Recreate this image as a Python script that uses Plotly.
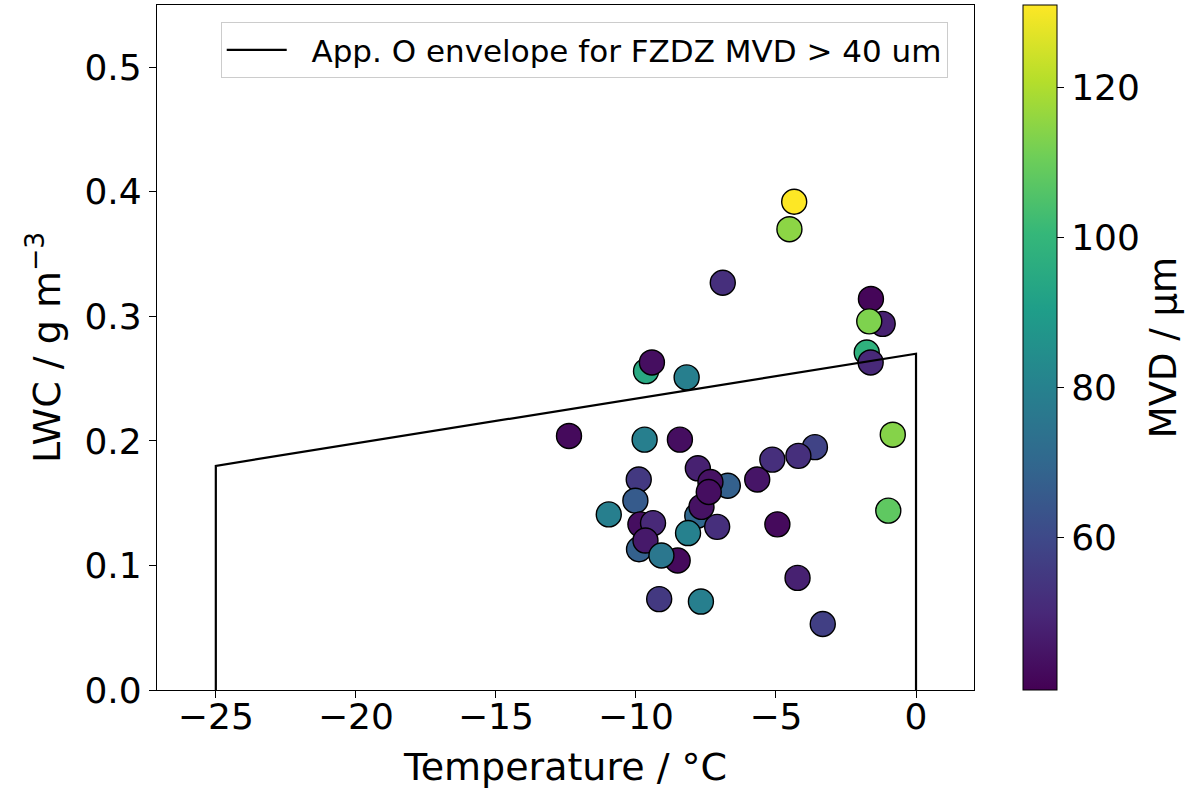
import plotly.graph_objects as go

# ---- data ----
temp = [-9.64, -9.43, -8.19, -12.39, -9.69, -8.43,
        -9.90, -10.02, -10.97, -9.84, -9.39, -9.89, -8.51, -9.66, -9.09,
        -7.79, -6.72, -7.34, -7.81, -7.66, -7.40, -7.10, -8.14,
        -5.67, -5.13, -3.61, -4.20, -4.95,
        -6.90, -1.61, -1.19, -1.76, -1.62, -1.67,
        -0.83, -0.99, -4.23, -9.17, -7.68, -3.33,
        -4.52, -4.35]
lwc = [0.256, 0.263, 0.251, 0.204, 0.201, 0.201,
       0.169, 0.152, 0.141, 0.133, 0.134, 0.113, 0.104, 0.120, 0.108,
       0.178, 0.164, 0.167, 0.140, 0.147, 0.159, 0.131, 0.126,
       0.169, 0.185, 0.195, 0.188, 0.133,
       0.327, 0.314, 0.294, 0.271, 0.263, 0.296,
       0.205, 0.144, 0.090, 0.073, 0.071, 0.053,
       0.370, 0.392]
mvd = [95, 43, 79, 42, 79, 43,
       55, 66, 79, 43, 50, 68, 42, 46, 76,
       48, 68, 44, 70, 44, 43, 52, 80,
       45, 52, 58, 52, 42,
       52, 41, 48, 98, 50, 113,
       114, 108, 48, 55, 79, 57,
       115, 131]

env_t = [-25, -25, 0, 0]
env_lwc = [0.0, 0.18, 0.27, 0.0]
env_name = "App. O envelope for FZDZ MVD > 40 um"

cb_ticks = [60, 80, 100, 120]

FONT = "DejaVu Sans"

fig = go.Figure()
fig.add_trace(go.Scatter(
    x=temp, y=lwc, mode="markers", showlegend=False,
    marker=dict(
        size=25, color=mvd, colorscale="Viridis", cmin=39.7, cmax=131,
        line=dict(color="black", width=1.4),
        colorbar=dict(
            thickness=34, thicknessmode="pixels", len=1, lenmode="fraction",
            x=1.06, xanchor="left", xpad=0, y=0.5, yanchor="middle", ypad=0,
            outlinecolor="black", outlinewidth=1,
            ticks="outside", ticklen=7, tickcolor="black", tickwidth=1,
            tickvals=cb_ticks,
            tickfont=dict(family=FONT, size=36, color="black"),
            title=dict(text="MVD / μm", side="right",
                       font=dict(family=FONT, size=37, color="black")),
        ),
    ),
))
fig.add_trace(go.Scatter(
    x=env_t, y=env_lwc, mode="lines", name="\u00a0\u00a0" + env_name,
    line=dict(color="black", width=2.2),
))

axis_common = dict(
    showline=True, mirror=True, linecolor="black", linewidth=1.2,
    ticks="outside", ticklen=7, tickcolor="black", tickwidth=1.2,
    showgrid=False, zeroline=False,
    tickfont=dict(family=FONT, size=36, color="black"),
)
fig.update_xaxes(range=[-27.1, 2.07], tickvals=[-25, -20, -15, -10, -5, 0],
                 ticktext=["\u221225", "\u221220", "\u221215", "\u221210", "\u22125", "0"],
                 ticklabelstandoff=-12,
                 title=dict(text="Temperature / °C", font=dict(family=FONT, size=38, color="black"),
                            standoff=20),
                 **axis_common)
fig.update_yaxes(range=[0, 0.55], tickvals=[0, 0.1, 0.2, 0.3, 0.4, 0.5],
                 ticktext=["0.0", "0.1", "0.2", "0.3", "0.4", "0.5"],
                 title=dict(text="LWC / g m<sup>\u22123</sup>",
                            font=dict(family=FONT, size=38, color="black"), standoff=12),
                 **axis_common)

fig.update_layout(
    width=1197, height=789,
    margin=dict(l=157, r=223, t=5, b=99, autoexpand=False),
    paper_bgcolor="white", plot_bgcolor="white",
    font=dict(family=FONT, color="black"),
    legend=dict(x=0.078, y=0.975, xanchor="left", yanchor="top",
                bgcolor="white", bordercolor="#cccccc", borderwidth=1,
                font=dict(family=FONT, size=31, color="black"),
                itemwidth=60),
)

fig.write_html("out.html")
